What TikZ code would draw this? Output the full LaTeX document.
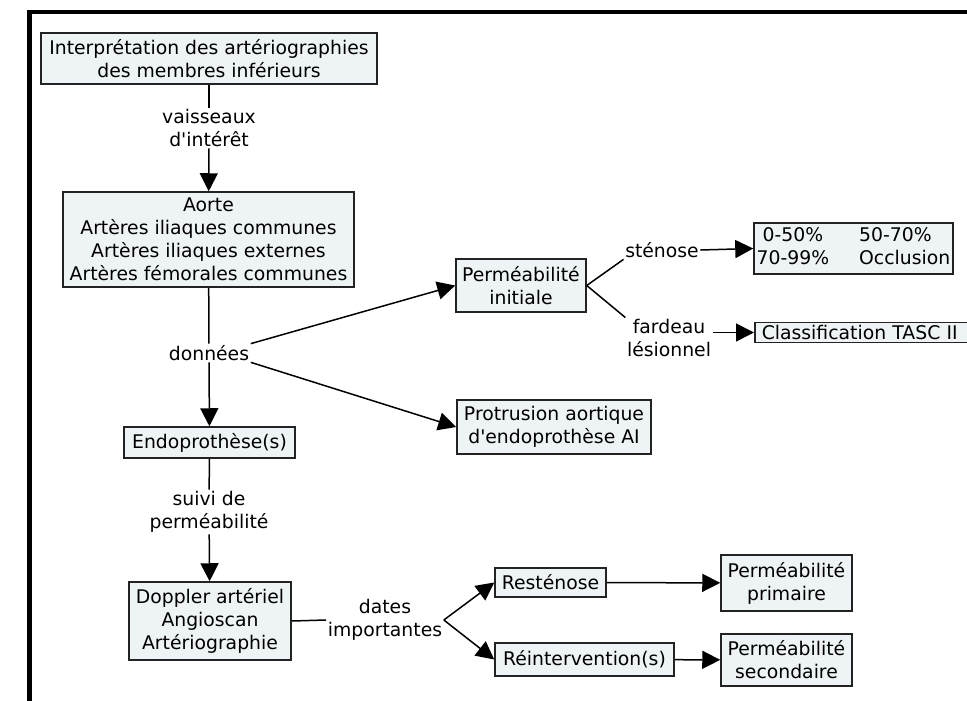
\documentclass[tikz,border=0pt]{standalone}
\usepackage{fontspec}
\newfontfamily\dvsans{DejaVu Sans}
\usetikzlibrary{arrows.meta}
\definecolor{boxfill}{RGB}{238,243,246}
\definecolor{boxline}{RGB}{35,35,35}
\begin{document}
\begin{tikzpicture}[x=1pt,y=-1pt,
  font=\dvsans\fontsize{18.8}{23}\selectfont,
  box/.style={draw=boxline, fill=boxfill, line width=1.5pt, inner sep=0pt, align=center},
  lbl/.style={inner sep=1.5pt, align=center},
  conn/.style={line width=1.5pt, draw=black},
  arr/.style={conn, -{Triangle[length=18pt,width=18pt]}},
  frame/.style={line width=4.5pt, draw=black}]
\useasboundingbox (0,0) rectangle (967,701);
\clip (0,0) rectangle (967,701);
\draw[frame] (29.5,720) -- (29.5,12) -- (1000,12);

% boxes
\node[box, minimum width=336pt, minimum height=51pt] (top) at (209,58.5)
  {Interprétation des artériographies\\des membres inférieurs};
\node[box, minimum width=291pt, minimum height=95pt] (aorte) at (208.5,239.5)
  {Aorte\\Artères iliaques communes\\Artères iliaques externes\\Artères fémorales communes};
\node[box, minimum width=171pt, minimum height=31pt] (endo) at (209.5,442.5) {Endoprothèse(s)};
\node[box, minimum width=162pt, minimum height=78pt] (doppler) at (210,621)
  {Doppler artériel\\Angioscan\\Artériographie};
\node[box, minimum width=130pt, minimum height=53pt] (perminit) at (521,285.5)
  {Perméabilité\\initiale};
\node[box, minimum width=194pt, minimum height=54pt] (protr) at (554,427)
  {Protrusion aortique\\d'endoprothèse AI};
\node[box, minimum width=199pt, minimum height=51pt] (stenbox) at (853.5,248.5)
  {\begin{tabular}{@{}c@{\hspace{30pt}}l@{}}0-50\% & 50-70\%\\70-99\% & Occlusion\end{tabular}};
\node[box, anchor=west, text width=215pt, align=left, inner xsep=7pt, minimum height=20pt] (tasc) at (754,332.5)
  {Classification TASC II};
\node[box, minimum width=111pt, minimum height=29pt] (resten) at (550.5,582.5) {Resténose};
\node[box, minimum width=179pt, minimum height=33pt] (reint) at (584.5,659.5) {Réintervention(s)};
\node[box, minimum width=131pt, minimum height=56pt] (permprim) at (786.5,583)
  {Perméabilité\\primaire};
\node[box, minimum width=131pt, minimum height=52pt] (permsec) at (786.5,660)
  {Perméabilité\\secondaire};

% labels
\node[lbl] (vaiss) at (209,128) {vaisseaux\\d'intérêt};
\node[lbl] (donnees) at (209,353) {données};
\node[lbl] (suivi) at (209,512) {suivi de\\perméabilité};
\node[lbl] (dates) at (385,620) {dates\\importantes};
\node[lbl] (stenlbl) at (662,250) {sténose};
\node[lbl] (fardlbl) at (669,338) {fardeau\\lésionnel};

% connectors
\draw[conn] (top) -- (vaiss);
\draw[arr] (vaiss) -- (aorte);
\draw[conn] (aorte) -- (donnees);
\draw[arr] (donnees) -- (endo);
\draw[arr] (donnees.north east) -- (perminit.west);
\draw[arr] (donnees.south east) -- (protr.west);
\draw[conn] (endo) -- (suivi);
\draw[arr] (suivi) -- (doppler);
\draw[conn] (doppler.east) -- (dates.west);
\draw[arr] (dates.east) -- (resten.west);
\draw[arr] (dates.east) -- (reint.west);
\draw[arr] (resten) -- (permprim);
\draw[arr] (reint) -- (permsec);
\draw[conn] (perminit.east) -- (stenlbl.south west);
\draw[conn] (perminit.east) -- (fardlbl.north west);
\draw[arr] (stenlbl.east) -- (stenbox.west);
\draw[arr] (fardlbl.east |- tasc.west) -- (tasc.west);
\end{tikzpicture}
\end{document}
